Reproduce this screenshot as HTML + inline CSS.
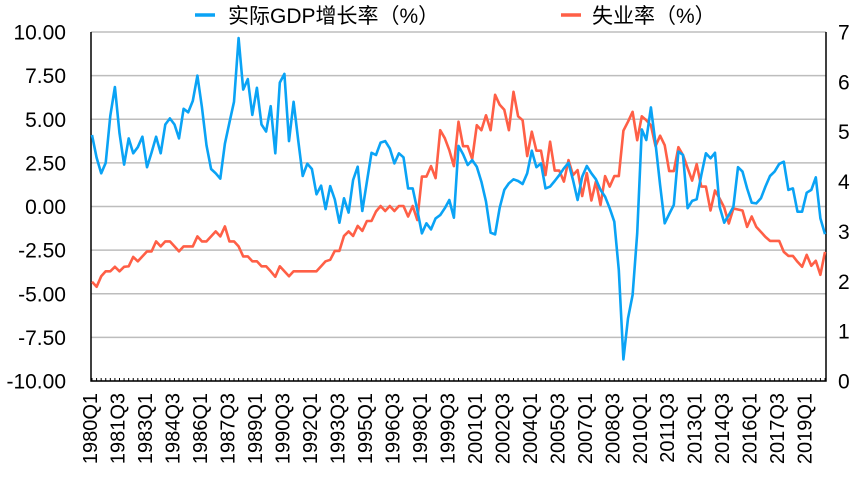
<!DOCTYPE html>
<html><head><meta charset="utf-8"><style>
body{margin:0;background:#fff;}
svg text{font-family:"Liberation Sans","Noto Sans CJK SC",sans-serif;fill:#000;}
</style></head><body>
<svg width="862" height="478" viewBox="0 0 862 478" xmlns="http://www.w3.org/2000/svg">
<g id="grid"></g>
<g id="axes"></g>
<g id="series"></g>
<g>
<line x1="195" y1="15" x2="215" y2="15" stroke="#0aa3f5" stroke-width="3.5"/>
<text x="228" y="23" font-size="21">实际GDP增长率（%）</text>
<line x1="561" y1="15" x2="581" y2="15" stroke="#ff5f46" stroke-width="3.5"/>
<text x="592" y="23" font-size="21">失业率（%）</text>
</g>
</svg>
<script>
const gdp=[4.1,2.8,1.9,2.5,5.2,6.85,4.2,2.4,3.9,3.05,3.4,4.0,2.25,3.1,4.0,3.05,4.7,5.05,4.7,3.9,5.6,5.4,6.05,7.5,5.7,3.5,2.15,1.9,1.6,3.6,4.8,6.0,9.65,6.7,7.3,5.25,6.8,4.7,4.3,5.75,3.05,7.1,7.6,3.75,6.0,3.8,1.75,2.45,2.15,0.7,1.2,-0.15,1.17,0.4,-0.93,0.47,-0.35,1.52,2.28,-0.26,1.42,3.08,2.95,3.66,3.75,3.33,2.47,3.05,2.82,1.04,1.04,-0.2,-1.54,-0.96,-1.31,-0.68,-0.49,-0.1,0.37,-0.64,3.47,3.0,2.38,2.66,2.28,1.42,0.28,-1.5,-1.6,-0.07,0.95,1.33,1.56,1.46,1.29,1.9,3.2,2.25,2.47,1.04,1.14,1.46,1.8,2.19,2.5,1.52,0.37,1.71,2.32,1.9,1.56,0.95,0.56,-0.1,-0.87,-3.64,-8.76,-6.41,-5.07,-1.54,4.42,3.81,5.68,3.62,1.23,-0.96,-0.43,0.09,3.14,2.95,-0.1,0.32,0.41,1.8,3.05,2.76,3.08,-0.01,-0.93,-0.49,-0.01,2.25,2.0,1.04,0.22,0.18,0.47,1.14,1.75,2.0,2.44,2.57,0.95,1.04,-0.3,-0.3,0.79,0.95,1.67,-0.68,-1.58];
const unemp=[1.99,1.89,2.1,2.2,2.2,2.29,2.2,2.29,2.3,2.49,2.4,2.5,2.6,2.6,2.8,2.7,2.8,2.8,2.7,2.6,2.7,2.7,2.7,2.9,2.8,2.8,2.9,3.0,2.9,3.1,2.8,2.8,2.7,2.5,2.5,2.4,2.4,2.3,2.3,2.2,2.09,2.3,2.2,2.1,2.2,2.2,2.2,2.2,2.2,2.2,2.3,2.4,2.43,2.61,2.61,2.91,3.0,2.91,3.11,3.01,3.21,3.21,3.4,3.51,3.41,3.51,3.41,3.51,3.51,3.3,3.51,3.23,4.1,4.1,4.31,4.07,5.03,4.87,4.63,4.31,5.2,4.71,4.71,4.45,5.13,5.03,5.33,5.03,5.74,5.54,5.44,5.03,5.8,5.31,5.23,4.51,5.0,4.62,4.62,4.13,4.8,4.22,4.22,4.0,4.43,4.13,4.23,3.71,4.17,3.62,4.0,3.53,4.11,3.9,4.11,4.11,5.02,5.2,5.4,4.83,5.31,5.23,5.13,4.71,4.92,4.73,4.21,4.21,4.69,4.53,4.27,4.02,4.35,3.9,3.9,3.42,3.82,3.66,3.48,3.16,3.46,3.44,3.42,3.09,3.3,3.09,2.99,2.89,2.81,2.81,2.81,2.59,2.51,2.51,2.39,2.29,2.53,2.31,2.41,2.13,2.59];
const leftTicks=["-10.00","-7.50","-5.00","-2.50","0.00","2.50","5.00","7.50","10.00"];
const rightTicks=["0","1","2","3","4","5","6","7"];
const startYear=1980;
const NS="http://www.w3.org/2000/svg";
const L=91,R=826,T=32,B=381;
const n=gdp.length;
function xs(i){return 92+i*(R-1-92)/(n-1);}
function yl(v){return B-(v+10)/20*(B-T);}
function yr(v){return B-v/7*(B-T);}
function mk(tag,attrs,parent){const e=document.createElementNS(NS,tag);for(const k in attrs)e.setAttribute(k,attrs[k]);parent.appendChild(e);return e;}
const grid=document.getElementById('grid'),axes=document.getElementById('axes'),series=document.getElementById('series');
leftTicks.forEach(t=>{
  const v=parseFloat(t),y=yl(v);
  const g=mk('line',{x1:L,x2:R,y1:y,y2:y,stroke:'#bdbdbd','stroke-width':1.5},grid);
  
  
  const tx=mk('text',{x:66,y:y+7.5,'font-size':21,'text-anchor':'end'},axes);
  tx.textContent=t;
  
  
});
rightTicks.forEach(t=>{
  const y=yr(parseFloat(t));
  const tx=mk('text',{x:838,y:y+7.5,'font-size':21},axes);
  tx.textContent=t;
  
  
});
const fr=mk('path',{d:`M${L},${T} V${B} H${R} V${T}`,fill:'none',stroke:'#000','stroke-width':1.5},axes);


for(let i=0;i<n;i++){
  const x=xs(i);
  const tk=mk('line',{x1:x,x2:x,y1:B,y2:B-3,stroke:'#000','stroke-width':1},axes);
  
  
  if(i%6===0){
    const yr_=startYear+Math.floor(i/4),q=i%4+1;
    const tx=mk('text',{x:0,y:0,'font-size':20,'text-anchor':'end',transform:`translate(${x+5},393) rotate(-90)`},axes);
    tx.textContent=yr_+'Q'+q;
    
    
  }
}
const pu=mk('polyline',{points:unemp.map((v,i)=>xs(i).toFixed(1)+','+yr(v).toFixed(1)).join(' '),fill:'none',stroke:'#ff5f46','stroke-width':2.6,'stroke-linejoin':'round'},series);


const pg=mk('polyline',{points:gdp.map((v,i)=>xs(i).toFixed(1)+','+yl(v).toFixed(1)).join(' '),fill:'none',stroke:'#0aa3f5','stroke-width':2.6,'stroke-linejoin':'round'},series);


</script>
</body></html>
